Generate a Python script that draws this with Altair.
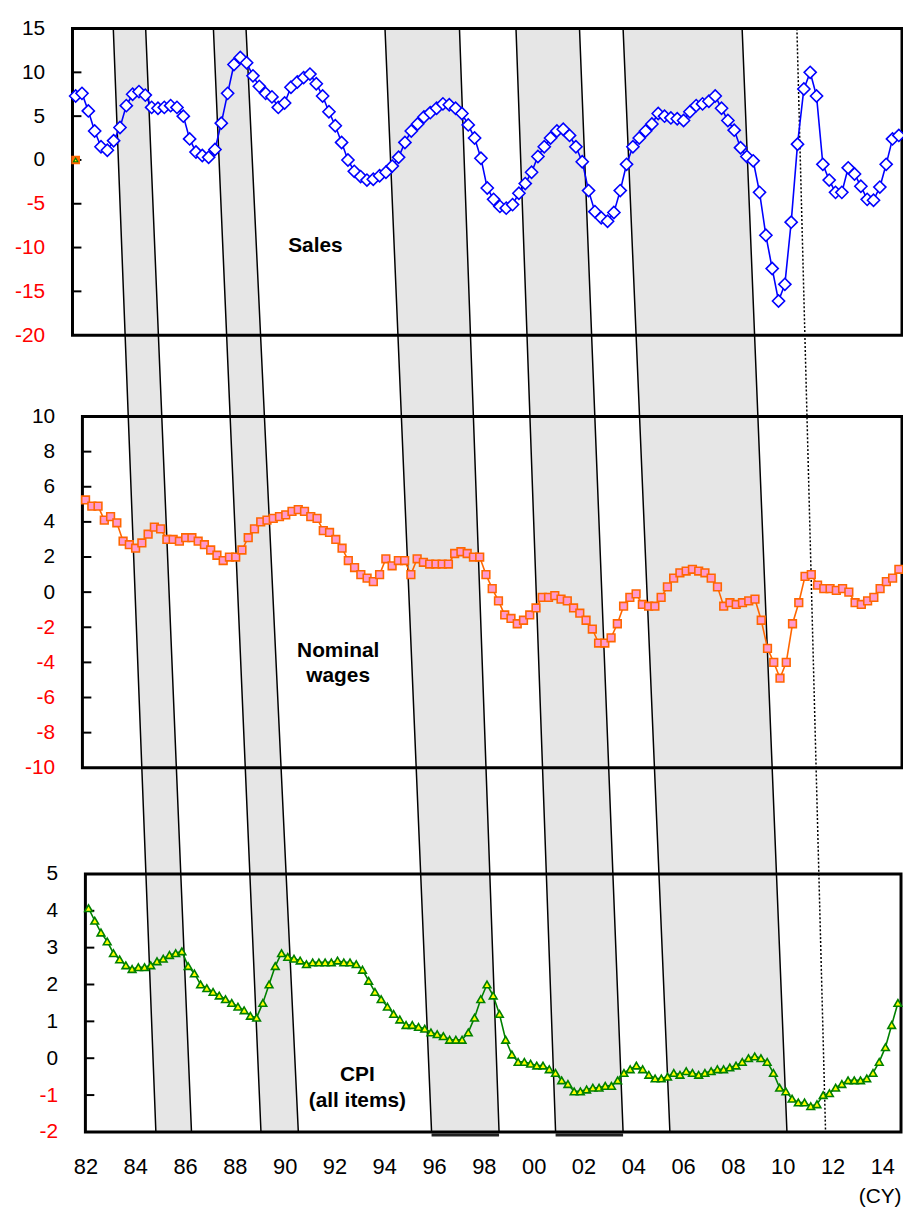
import altair as alt
import pandas as pd

# ---------------- data (quarterly, 1982Q1 .. 2014Q3) ----------------
FIRST_YEAR = 1982
sales = [7.3, 7.6, 5.6, 3.3, 1.5, 1.1, 2.2, 3.7, 6.2, 7.5,
         7.8, 7.4, 6.0, 5.9, 6.0, 6.2, 6.0, 5.0, 2.4, 0.9,
         0.5, 0.3, 1.2, 4.2, 7.6, 10.9, 11.7, 11.1, 9.6, 8.4,
         7.6, 7.2, 6.0, 6.5, 8.3, 8.9, 9.4, 9.8, 8.7, 7.3,
         5.5, 3.9, 2.0, 0.0, -1.3, -1.9, -2.3, -2.2, -1.8, -1.4,
         -0.7, 0.3, 2.0, 3.3, 4.1, 4.9, 5.4, 5.9, 6.4, 6.3,
         5.9, 5.3, 4.0, 2.5, 0.2, -3.2, -4.5, -5.3, -5.5, -5.1,
         -3.8, -2.7, -1.4, 0.4, 1.5, 2.5, 3.3, 3.5, 2.8, 1.5,
         -0.2, -3.5, -5.9, -6.6, -7.0, -6.0, -3.5, -0.5, 1.5, 2.5,
         3.3, 4.1, 5.3, 5.0, 4.8, 4.7, 4.5, 5.5, 6.2, 6.4,
         6.7, 7.3, 5.9, 4.5, 3.4, 1.4, 0.4, -0.1, -3.7, -8.6,
         -12.4, -16.1, -14.2, -7.1, 1.8, 8.1, 10.0, 7.3, -0.5, -2.3,
         -3.7, -3.7, -0.9, -1.6, -3.0, -4.5, -4.6, -3.1, -0.5, 2.4,
         2.8]
wages = [5.25, 4.9, 4.9, 4.1, 4.3, 3.95, 2.9, 2.7, 2.5, 2.8,
         3.3, 3.7, 3.6, 3.0, 3.0, 2.9, 3.1, 3.1, 2.9, 2.7,
         2.4, 2.1, 1.8, 2.0, 2.0, 2.4, 3.1, 3.6, 4.0, 4.1,
         4.2, 4.3, 4.4, 4.6, 4.7, 4.6, 4.3, 4.2, 3.5, 3.4,
         3.0, 2.5, 1.8, 1.4, 1.0, 0.8, 0.6, 1.0, 1.9, 1.5,
         1.8, 1.8, 1.0, 1.9, 1.7, 1.6, 1.6, 1.6, 1.6, 2.2,
         2.3, 2.2, 2.0, 2.0, 1.0, 0.2, -0.5, -1.3, -1.5, -1.8,
         -1.6, -1.3, -0.9, -0.3, -0.3, -0.2, -0.4, -0.5, -0.9, -1.2,
         -1.6, -2.1, -2.9, -2.9, -2.6, -1.8, -0.8, -0.3, -0.1, -0.7,
         -0.8, -0.8, -0.3, 0.3, 0.8, 1.1, 1.2, 1.3, 1.2, 1.1,
         0.8, 0.3, -0.8, -0.6, -0.7, -0.6, -0.5, -0.4, -1.6, -3.2,
         -4.0, -4.9, -4.0, -1.8, -0.6, 0.9, 1.0, 0.4, 0.2, 0.2,
         0.1, 0.2, 0.0, -0.6, -0.7, -0.5, -0.3, 0.2, 0.6, 0.8,
         1.3]
cpi = [4.07, 3.73, 3.41, 3.17, 2.85, 2.68, 2.52, 2.42, 2.47, 2.47,
       2.52, 2.63, 2.7, 2.8, 2.85, 2.9, 2.5, 2.3, 2.0, 1.9,
       1.8, 1.7, 1.6, 1.5, 1.4, 1.3, 1.15, 1.1, 1.5, 2.0,
       2.5, 2.85, 2.75, 2.7, 2.65, 2.55, 2.6, 2.6, 2.6, 2.6,
       2.65, 2.6, 2.6, 2.55, 2.4, 2.1, 1.8, 1.6, 1.4, 1.2,
       1.05, 0.9, 0.9, 0.85, 0.8, 0.7, 0.65, 0.6, 0.5, 0.5,
       0.5, 0.7, 1.1, 1.6, 2.0, 1.7, 1.2, 0.5, 0.1, -0.1,
       -0.1, -0.15, -0.2, -0.2, -0.3, -0.4, -0.6, -0.7, -0.9, -0.9,
       -0.85, -0.8, -0.8, -0.75, -0.75, -0.6, -0.4, -0.3, -0.2, -0.3,
       -0.45, -0.55, -0.55, -0.5, -0.4, -0.45, -0.35, -0.4, -0.45, -0.4,
       -0.35, -0.3, -0.3, -0.25, -0.2, -0.1, 0.0, 0.05, 0.0, -0.1,
       -0.4, -0.8, -0.9, -1.1, -1.2, -1.2, -1.3, -1.25, -1.0, -0.95,
       -0.8, -0.7, -0.6, -0.6, -0.6, -0.55, -0.4, -0.1, 0.3, 0.9,
       1.5]
quarter_time = [FIRST_YEAR + (i + 0.5) / 4 for i in range(len(sales))]

# shaded bands (years, on the CPI axis), at top of chart and at bottom
band_top_start = [1983.12, 1987.14, 1994.03, 1999.29, 2003.59]
band_top_end = [1984.42, 1988.45, 1997.02, 2001.84, 2008.37]
band_bottom_start = [1984.83, 1989.05, 1995.90, 2000.88, 2005.47]
band_bottom_end = [1986.26, 1990.55, 1998.61, 2003.59, 2010.17]
bands_with_bottom_bar = [2, 3]
dotted_top, dotted_bottom = 2010.57, 2011.72

x_tick_years = list(range(1982, 2015, 2))
sales_labels = [-20, -15, -10, -5, 0, 5, 10, 15]
wages_labels = [-10, -8, -6, -4, -2, 0, 2, 4, 6, 8, 10]
cpi_labels = [-2, -1, 0, 1, 2, 3, 4, 5]

# ---------------- layout ----------------
X_DOMAIN = [1982.0, 2014.75]
W, H = 836, 1112
FONT = "Arial"
PANELS = {
    "sales": dict(xr=[0, 836], yd=[-20, 15], yr=[309, 0], fx=0),
    "wages": dict(xr=[10, 836], yd=[-10, 10], yr=[745, 391], fx=10),
    "cpi": dict(xr=[13, 835], yd=[-2, 5], yr=[1112, 852], fx=13),
}
label_color = {"condition": {"test": "datum.value < 0", "value": "#ff0000"}, "value": "black"}


def xs(p):
    return alt.Scale(domain=X_DOMAIN, range=p["xr"], nice=False, zero=False)


def ys(p):
    return alt.Scale(domain=p["yd"], range=p["yr"], nice=False, zero=False)


def label_axis(p, values):
    return alt.Axis(orient="left", values=values, labelExpr="toString(datum.value)",
                    ticks=False, tickSize=0, domain=False,
                    grid=False, labelPadding=28, labelFontSize=21, labelFont=FONT,
                    labelColor=label_color, offset=-p["fx"], title=None, labelOverlap=False)


def panel(key, values, label_vals, color, shape, fill, size, text, text_t, text_v, x_axis=None):
    p = PANELS[key]
    df = pd.DataFrame({"t": quarter_time, "v": values})
    frame_df = pd.DataFrame({"x": [X_DOMAIN[0]], "x2": [X_DOMAIN[1]],
                             "y": [p["yd"][0]], "y2": [p["yd"][1]]})
    frame = alt.Chart(frame_df).mark_rect(fillOpacity=0, stroke="black", strokeWidth=3).encode(
        x=alt.X("x:Q", scale=xs(p), axis=None), x2="x2:Q",
        y=alt.Y("y:Q", scale=ys(p), axis=None), y2="y2:Q")
    inner = [v for v in label_vals if v not in (min(label_vals), max(label_vals))]
    tick_df = pd.DataFrame({"x0": [X_DOMAIN[0]] * len(inner),
                            "x1": [X_DOMAIN[0]] * len(inner), "v": inner})
    ticks = alt.Chart(tick_df).mark_rule(color="black", strokeWidth=2, x2Offset=9).encode(
        x=alt.X("x0:Q", scale=xs(p), axis=None), x2="x1:Q",
        y=alt.Y("v:Q", scale=ys(p), axis=None))
    line = alt.Chart(df).mark_line(color=color, strokeWidth=1.6).encode(
        x=alt.X("t:Q", scale=xs(p), axis=x_axis),
        y=alt.Y("v:Q", scale=ys(p), axis=label_axis(p, label_vals)))
    pts = alt.Chart(df).mark_point(shape=shape, filled=True, fill=fill, stroke=color,
                                    strokeWidth=1.6, size=size, opacity=1).encode(
        x=alt.X("t:Q", scale=xs(p), axis=None),
        y=alt.Y("v:Q", scale=ys(p), axis=None))
    txt = alt.Chart(pd.DataFrame({"t": [text_t], "v": [text_v], "label": [text]})).mark_text(
        font=FONT, fontSize=21, fontWeight="bold", lineBreak="\n", lineHeight=26,
        align="center", baseline="middle", color="black").encode(
        x=alt.X("t:Q", scale=xs(p), axis=None),
        y=alt.Y("v:Q", scale=ys(p), axis=None),
        text="label:N")
    return [frame, ticks, line, pts, txt]


# bands layer (figure-wide, measured on CPI time axis; pos 1 = top of chart, 0 = bottom)
band_rows = []
for b in range(len(band_top_start)):
    band_rows.append({"band": b, "pos": 1.0, "left": band_top_start[b], "right": band_top_end[b]})
    band_rows.append({"band": b, "pos": 0.0, "left": band_bottom_start[b], "right": band_bottom_end[b]})
band_df = pd.DataFrame(band_rows)
bx = alt.Scale(domain=X_DOMAIN, range=PANELS["cpi"]["xr"], nice=False, zero=False)
by = alt.Scale(domain=[0, 1], range=[H, 0], nice=False, zero=False)

bands = alt.Chart(band_df).mark_area(orient="horizontal", fill="#e6e6e6", stroke="black",
                                     strokeWidth=1.5, opacity=1).encode(
    y=alt.Y("pos:Q", scale=by, axis=None),
    x=alt.X("left:Q", scale=bx, axis=None),
    x2="right:Q",
    detail="band:N")

bar_df = pd.DataFrame({"left": [band_bottom_start[b] for b in bands_with_bottom_bar],
                       "right": [band_bottom_end[b] for b in bands_with_bottom_bar],
                       "pos": [0.0] * len(bands_with_bottom_bar)})
bottom_bars = alt.Chart(bar_df).mark_rule(color="#222222", strokeWidth=3, yOffset=3).encode(
    x=alt.X("left:Q", scale=bx, axis=None), x2="right:Q",
    y=alt.Y("pos:Q", scale=by, axis=None))

dotted = alt.Chart(pd.DataFrame({"x": [dotted_top, dotted_bottom], "pos": [1.0, 0.0]})).mark_line(
    color="black", strokeDash=[2, 2], strokeWidth=1.5).encode(
    x=alt.X("x:Q", scale=bx, axis=None),
    y=alt.Y("pos:Q", scale=by, axis=None))

cpi_x_axis = alt.Axis(values=x_tick_years, labelExpr="substring(toString(datum.value), 2, 4)",
                      ticks=False, tickSize=0, domain=False, grid=False, labelPadding=25,
                      labelFontSize=22, labelFont=FONT, labelColor="black", labelFlush=False,
                      labelOverlap=False, title="(CY)", titleAnchor="end", titleAlign="right",
                      titleFont=FONT, titleFontSize=21, titleFontWeight="normal",
                      titlePadding=8, titleColor="black")

sales_layers = panel("sales", sales, sales_labels, "#0000ff", "diamond", "white", 150,
                     "Sales", 1991.59, -9.8)
wages_layers = panel("wages", wages, wages_labels, "#ff6600", "square", "#ff99cc", 60,
                     "Nominal\nwages", 1992.22, -3.33)
cpi_layers = panel("cpi", cpi, cpi_labels, "#008000", "triangle-up", "#ffff00", 60,
                   "CPI\n(all items)", 1992.92, -0.47, x_axis=cpi_x_axis)

# small marker at the start of the sales panel
ps = PANELS["sales"]
mk_df = pd.DataFrame({"t": [quarter_time[0]], "v": [0.0]})
mk_sq = alt.Chart(mk_df).mark_point(shape="square", filled=True, fill="#ff6600", stroke="#ff6600",
                                     size=45, opacity=1).encode(
    x=alt.X("t:Q", scale=xs(ps), axis=None), y=alt.Y("v:Q", scale=ys(ps), axis=None))
mk_tr = alt.Chart(mk_df).mark_point(shape="triangle-up", filled=True, fill="#ffff00", stroke="#008000",
                                     strokeWidth=1.2, size=18, opacity=1).encode(
    x=alt.X("t:Q", scale=xs(ps), axis=None), y=alt.Y("v:Q", scale=ys(ps), axis=None))

chart = alt.layer(
    bands, bottom_bars, dotted, *sales_layers, mk_sq, mk_tr, *wages_layers, *cpi_layers
).resolve_scale(x="independent", y="independent").properties(
    width=W, height=H,
    autosize=alt.AutoSizeParams(type="none"),
    padding={"left": 65, "top": 16, "right": 1, "bottom": 76},
).configure_view(strokeWidth=0)

chart.save("out.html", embed_options={"renderer": "svg", "actions": False})
